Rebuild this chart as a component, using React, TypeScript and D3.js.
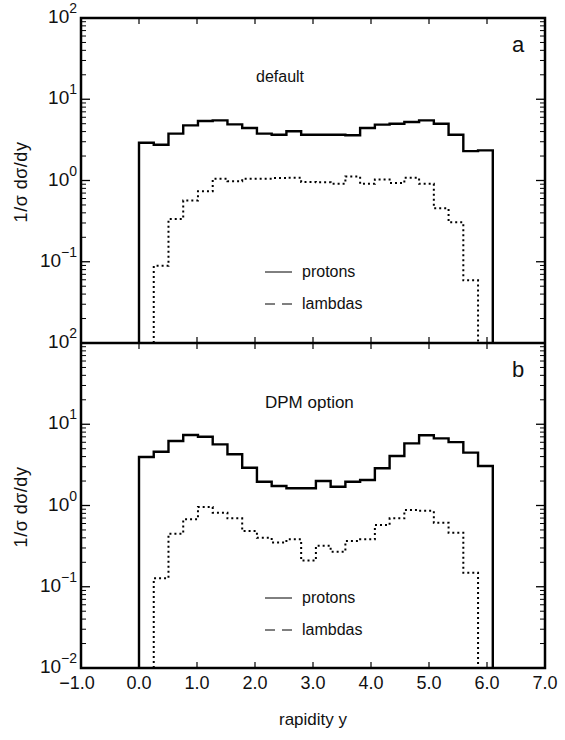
import React from "react";
import * as d3 from "d3";

// ---- data ----
const NBINS = 24;
const Y_MAX = 6.1; // histogram spans rapidity 0 .. 6.1
const binEdges: number[] = d3.range(NBINS + 1).map((i) => (i * Y_MAX) / NBINS);

const protonsDefault = [2.92, 2.76, 3.77, 4.77, 5.4, 5.5, 4.91, 4.42, 3.77, 3.66, 4.03, 3.66, 3.66, 3.66, 3.6, 4.42, 4.87, 5.0, 5.25, 5.5, 5.0, 3.66, 2.3, 2.35];
const lambdasDefault = [null, 0.089, 0.336, 0.566, 0.738, 1.05, 0.98, 1.05, 1.05, 1.07, 1.08, 0.96, 0.95, 0.91, 1.12, 0.91, 1.03, 0.93, 1.08, 0.91, 0.455, 0.306, 0.059, null];
const protonsDPM = [3.95, 4.59, 6.22, 7.38, 7.03, 5.66, 4.27, 2.92, 1.96, 1.74, 1.63, 1.63, 2.0, 1.7, 1.96, 2.06, 2.87, 4.06, 5.82, 7.31, 6.71, 6.03, 4.47, 3.06];
const lambdasDPM = [null, 0.127, 0.45, 0.676, 0.96, 0.816, 0.695, 0.485, 0.4, 0.35, 0.384, 0.21, 0.32, 0.27, 0.366, 0.384, 0.575, 0.695, 0.88, 0.86, 0.615, 0.463, 0.149, null];

const xTicks = [-1, 0, 1, 2, 3, 4, 5, 6, 7];
const yDecades = [-2, -1, 0, 1, 2];
const panelTags = ["a", "b"];
const panelTitles = ["default", "DPM option"];
const legendNames = ["protons", "lambdas"];

// ---- layout ----
const W = 565, H = 740;
const L = 81, R = 545;
const TOP = 18, MID = 343, BOT = 668;
const FONT = "'Liberation Sans', Arial, sans-serif";

const x = d3.scaleLinear().domain([-1, 7]).range([L, R]);
const yA = d3.scaleLog().domain([1e-2, 1e2]).range([MID, TOP]);
const yB = d3.scaleLog().domain([1e-2, 1e2]).range([BOT, MID]);

function histPath(vals: (number | null)[], y: d3.ScaleLogarithmic<number, number>) {
  const idx = vals.map((v, i) => (v == null ? -1 : i)).filter((i) => i >= 0);
  const first = idx[0], last = idx[idx.length - 1];
  const pts: [number, number][] = [];
  const floor = y.range()[0];
  pts.push([x(binEdges[first]), floor]);
  for (let i = first; i <= last; i++) {
    const v = vals[i] as number;
    pts.push([x(binEdges[i]), y(v)]);
    pts.push([x(binEdges[i + 1]), y(v)]);
  }
  pts.push([x(binEdges[last + 1]), floor]);
  return d3.line()(pts) as string;
}

function supLabel(exp: number) {
  return exp < 0 ? "\u2212" + Math.abs(exp) : String(exp);
}

function YAxis({ y, labels }: { y: d3.ScaleLogarithmic<number, number>; labels: { v: number; exp: number }[] }) {
  const minors: number[] = [];
  for (let k = -2; k < 2; k++) for (let m = 2; m <= 9; m++) minors.push(m * Math.pow(10, k));
  return (
    <g>
      {yDecades.map((k) => (
        <g key={"M" + k}>
          <line x1={L} x2={L + 9} y1={y(Math.pow(10, k))} y2={y(Math.pow(10, k))} stroke="#000" strokeWidth={1.3} />
          <line x1={R} x2={R - 9} y1={y(Math.pow(10, k))} y2={y(Math.pow(10, k))} stroke="#000" strokeWidth={1.3} />
        </g>
      ))}
      {minors.map((v, i) => (
        <g key={"m" + i}>
          <line x1={L} x2={L + 5} y1={y(v)} y2={y(v)} stroke="#000" strokeWidth={1} />
          <line x1={R} x2={R - 5} y1={y(v)} y2={y(v)} stroke="#000" strokeWidth={1} />
        </g>
      ))}
      {labels.map((d, i) => (
        <text key={"l" + i} x={77} y={y(d.v) + 5} textAnchor="end" fontFamily={FONT} fontSize={19} fill="#111">
          <tspan>10</tspan>
          <tspan dy={-10} fontSize={14}>{supLabel(d.exp)}</tspan>
        </text>
      ))}
    </g>
  );
}

function Legend({ y0 }: { y0: number }) {
  return (
    <g fontFamily={FONT} fontSize={16} fill="#111">
      <line x1={265} x2={292} y1={y0} y2={y0} stroke="#000" strokeWidth={1} />
      <text x={302} y={y0 + 5}>{legendNames[0]}</text>
      <line x1={265} x2={292} y1={y0 + 32} y2={y0 + 32} stroke="#000" strokeWidth={1} strokeDasharray="10,7" />
      <text x={302} y={y0 + 37}>{legendNames[1]}</text>
    </g>
  );
}

export default function App() {
  const panels = [
    { y: yA, p: protonsDefault, l: lambdasDefault, top: TOP, bot: MID },
    { y: yB, p: protonsDPM, l: lambdasDPM, top: MID, bot: BOT },
  ];
  return (
    <svg width={W} height={H} style={{ position: "absolute", left: 0, top: 0, background: "#fff" }}>
      <rect width={W} height={H} fill="#fff" />
      {panels.map((pn, i) => (
        <g key={i}>
          <path d={histPath(pn.p, pn.y)} fill="none" stroke="#000" strokeWidth={2.4} strokeLinejoin="miter" />
          <path d={histPath(pn.l, pn.y)} fill="none" stroke="#000" strokeWidth={2} strokeDasharray="2,3" />
          {xTicks.map((t) => (
            <g key={t}>
              <line x1={x(t)} x2={x(t)} y1={pn.bot} y2={pn.bot - 6} stroke="#000" strokeWidth={1.2} />
              <line x1={x(t)} x2={x(t)} y1={pn.top} y2={pn.top + 6} stroke="#000" strokeWidth={1.2} />
            </g>
          ))}
        </g>
      ))}
      <YAxis
        y={yA}
        labels={[
          { v: 100, exp: 2 },
          { v: 10, exp: 1 },
          { v: 1, exp: 0 },
          { v: 0.1, exp: -1 },
          { v: 0.01, exp: 2 },
        ]}
      />
      <YAxis
        y={yB}
        labels={[
          { v: 10, exp: 1 },
          { v: 1, exp: 0 },
          { v: 0.1, exp: -1 },
          { v: 0.01, exp: -2 },
        ]}
      />
      {/* frame */}
      <rect x={L} y={TOP} width={R - L} height={BOT - TOP} fill="none" stroke="#000" strokeWidth={2.5} />
      <line x1={L} x2={R} y1={MID} y2={MID} stroke="#000" strokeWidth={2.5} />
      {/* x tick labels */}
      {xTicks.map((t) => (
        <text key={t} x={x(t) - (t < 0 ? 4 : 0)} y={689} textAnchor="middle" fontFamily={FONT} fontSize={18} fill="#111">
          {(t < 0 ? "\u2212" : "") + Math.abs(t).toFixed(1)}
        </text>
      ))}
      <text x={313} y={725} textAnchor="middle" fontFamily={FONT} fontSize={17} fill="#111">rapidity y</text>
      {/* y titles */}
      {[182, 507].map((cy, i) => (
        <text key={i} transform={`translate(27,${cy}) rotate(-90)`} textAnchor="middle" fontFamily={FONT} fontSize={18} letterSpacing={0.5} fill="#111">
          1/σ dσ/dy
        </text>
      ))}
      {/* panel tags and titles */}
      <text x={518} y={52} textAnchor="middle" fontFamily={FONT} fontSize={22} fill="#111">{panelTags[0]}</text>
      <text x={518} y={377} textAnchor="middle" fontFamily={FONT} fontSize={22} fill="#111">{panelTags[1]}</text>
      <text x={256} y={82} fontFamily={FONT} fontSize={16} fill="#111">{panelTitles[0]}</text>
      <text x={265} y={408} fontFamily={FONT} fontSize={17} fill="#111">{panelTitles[1]}</text>
      <Legend y0={272} />
      <Legend y0={598} />
    </svg>
  );
}
